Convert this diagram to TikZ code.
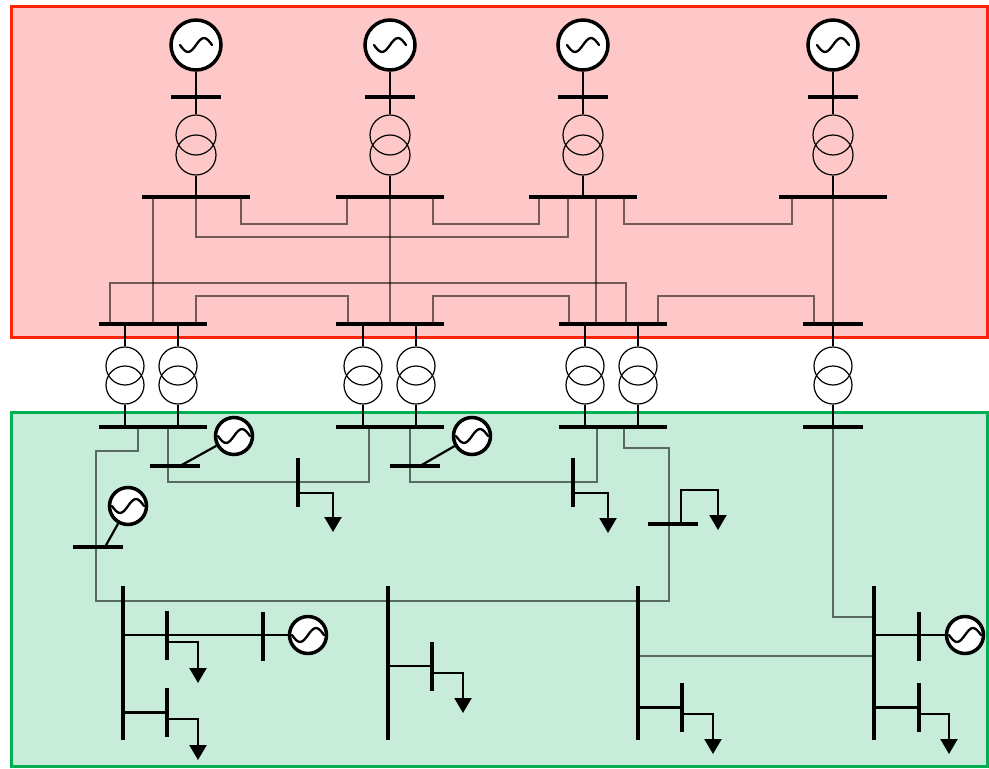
\documentclass[tikz,border=0pt]{standalone}
\usetikzlibrary{arrows.meta}
\definecolor{hvfill}{RGB}{255,200,200}
\definecolor{hvline}{RGB}{255,35,10}
\definecolor{mvfill}{RGB}{199,236,218}
\definecolor{mvline}{RGB}{0,176,80}

\begin{document}
\begin{tikzpicture}[x=1pt,y=-1pt,
    hbus/.style={rectangle,fill=black,inner sep=0pt,minimum width=#1,minimum height=3.8pt},
    vbus/.style={rectangle,fill=black,inner sep=0pt,minimum height=#1,minimum width=3.8pt},
    wind/.style={circle,draw,line width=1.2pt,inner sep=0pt,minimum size=#1},
    gen/.style 2 args={circle,draw,line width=3.5pt,fill=white,inner sep=0pt,minimum size=#1pt,
      path picture={\draw[line width=2.3pt,line cap=round,shift={(path picture bounding box.center)},rotate=#2,scale=#1/50]
        (-16pt,0pt) sin (-8pt,-7pt) cos (0pt,0pt) sin (8pt,7pt) cos (16pt,0pt);}},
    stem/.style={line width=2.2pt},
    tie/.style={line width=1.1pt,draw=black,draw opacity=0.55},
    load/.style={line width=2.2pt,-{Triangle[width=17pt,length=15pt]}}]
        \useasboundingbox (0,0) rectangle (989,769);

        \draw[line width=3pt,draw=hvline,fill=hvfill] (11,6) rectangle (987,337);
        \draw[line width=3pt,draw=mvline,fill=mvfill] (11,412) rectangle (987,766);

        \foreach \n/\x in {1/196,2/390,3/583,4/833}{
          \node[gen={50}{0}] (G\n) at (\x,45) {};
          \node[hbus=50pt] (S\n) at (\x,97) {};
          \node[wind=40pt] (Wa\n) at (\x,135) {};
          \node[wind=40pt] (Wb\n) at (\x,155) {};
          \node[hbus=108pt] (TB\n) at (\x,197) {};
          \draw[stem] (G\n) -- (Wa\n);
          \draw[stem] (Wb\n) -- (TB\n.center);
        }

        \foreach \n/\x/\w in {1/153/108pt,2/390/108pt,3/613/108pt,4/833/60pt}{
          \node[hbus=\w] (MB\n) at (\x,324) {};
          \node[hbus=\w] (LB\n) at (\x,427) {};
        }

        \foreach \n/\x/\b in {1/125/1,2/178/1,3/363/2,4/416/2,5/585/3,6/638/3,7/833/4}{
          \node[wind=38pt] (Ua\n) at (\x,366) {};
          \node[wind=38pt] (Ub\n) at (\x,385) {};
          \draw[stem] (Ua\n) -- (Ua\n |- MB\b.center);
          \draw[stem] (Ub\n) -- (Ub\n |- LB\b.center);
        }

        \draw[tie] ([xshift=45pt]TB1.center) -- ++(0,27) -| ([xshift=-43pt]TB2.center);
        \draw[tie] (TB1.center) -- ++(0,40) -| ([xshift=-15pt]TB3.center);
        \draw[tie] ([xshift=43pt]TB2.center) -- ++(0,27) -| ([xshift=-44pt]TB3.center);
        \draw[tie] ([xshift=41pt]TB3.center) -- ++(0,27) -| ([xshift=-41pt]TB4.center);

        \draw[tie] ([xshift=-43pt]TB1.center) -- (MB1.center);
        \draw[tie] (TB2.center) -- (MB2.center);
        \draw[tie] ([xshift=13pt]TB3.center) -- ([xshift=-17pt]MB3.center);
        \draw[tie] (TB4.center) -- (MB4.center);

        \draw[tie] ([xshift=-43pt]MB1.center) -- ++(0,-41) -| ([xshift=13pt]MB3.center);
        \draw[tie] ([xshift=43pt]MB1.center) -- ++(0,-28) -| ([xshift=-42pt]MB2.center);
        \draw[tie] ([xshift=43pt]MB2.center) -- ++(0,-28) -| ([xshift=-44pt]MB3.center);
        \draw[tie] ([xshift=45pt]MB3.center) -- ++(0,-28) -| ([xshift=-19pt]MB4.center);

        \node[vbus=154pt] (V1) at (123,663) {};
        \node[vbus=154pt] (V2) at (388,663) {};
        \node[vbus=154pt] (V3) at (638,663) {};
        \node[vbus=154pt] (V4) at (874,663) {};

        \coordinate (w1) at (96,601);
        \coordinate (w2) at (669,448);
        \draw[tie] ([xshift=-15pt]LB1.center) -- ++(0,24) -| (w1) -| (w2) -| ([xshift=11pt]LB3.center);
        \draw[tie] ([xshift=15pt]LB1.center) -- ++(0,55) -| ([xshift=-21pt]LB2.center);
        \draw[tie] ([xshift=20pt]LB2.center) -- ++(0,55) -| ([xshift=-16pt]LB3.center);
        \draw[tie] (LB4.center) |- ([yshift=46pt]V4.center);
        \draw[tie] ([yshift=7pt]V3.center) -- ([yshift=7pt]V4.center);

        \node[hbus=50pt] (DB1) at (98,547) {};
        \node[gen={37}{60}] (GD1) at (128,506) {};
        \draw[stem] ([xshift=7pt]DB1.center) -- (GD1);

        \node[hbus=50pt] (DB2) at (175,466) {};
        \node[gen={37}{20}] (GD2) at (234,436) {};
        \draw[stem] ([xshift=5pt]DB2.center) -- (GD2);

        \node[hbus=50pt] (DB3) at (415,466) {};
        \node[gen={37}{20}] (GD3) at (472,436) {};
        \draw[stem] ([xshift=5pt]DB3.center) -- (GD3);

        \node[vbus=49pt] (VB1) at (298,482.5) {};
        \draw[load] ([yshift=-10.5pt]VB1.center) -| ++(35,39);
        \node[vbus=49pt] (VB2) at (573,482.5) {};
        \draw[load] ([yshift=-10.5pt]VB2.center) -| ++(35,40);

        \node[hbus=50pt] (DB4) at (673,524) {};
        \draw[load] ([xshift=8pt]DB4.center) -- ++(0,-34) -| ++(37,40);

        \node[vbus=49pt] (S1a) at (167,635) {};
        \node[vbus=49pt] (S1b) at (263,636) {};
        \node[gen={37}{5}] (GD4) at (308,635) {};
        \draw[stem] (GD4) -- (GD4 -| V1.center);
        \draw[load] ([yshift=-7pt]S1a.center) -| ++(31,41);
        \node[vbus=49pt] (S2) at (167,712.5) {};
        \draw[stem] (S2.center) -- (S2.center -| V1.center);
        \draw[load] ([yshift=-6.5pt]S2.center) -| ++(31,41);

        \node[vbus=49pt] (S3) at (432,666) {};
        \draw[stem] (S3.center) -- (S3.center -| V2.center);
        \draw[load] ([yshift=-7pt]S3.center) -| ++(31,40);

        \node[vbus=49pt] (S4) at (682,707.5) {};
        \draw[stem] (S4.center) -- (S4.center -| V3.center);
        \draw[load] ([yshift=-6.5pt]S4.center) -| ++(31,40);

        \node[vbus=49pt] (S5) at (919,636) {};
        \node[gen={37}{5}] (GD5) at (965,635) {};
        \draw[stem] (GD5) -- (GD5 -| V4.center);
        \node[vbus=49pt] (S6) at (919,707.5) {};
        \draw[stem] (S6.center) -- (S6.center -| V4.center);
        \draw[load] ([yshift=-6.5pt]S6.center) -| ++(30,40);
      \end{tikzpicture}
\end{document}
